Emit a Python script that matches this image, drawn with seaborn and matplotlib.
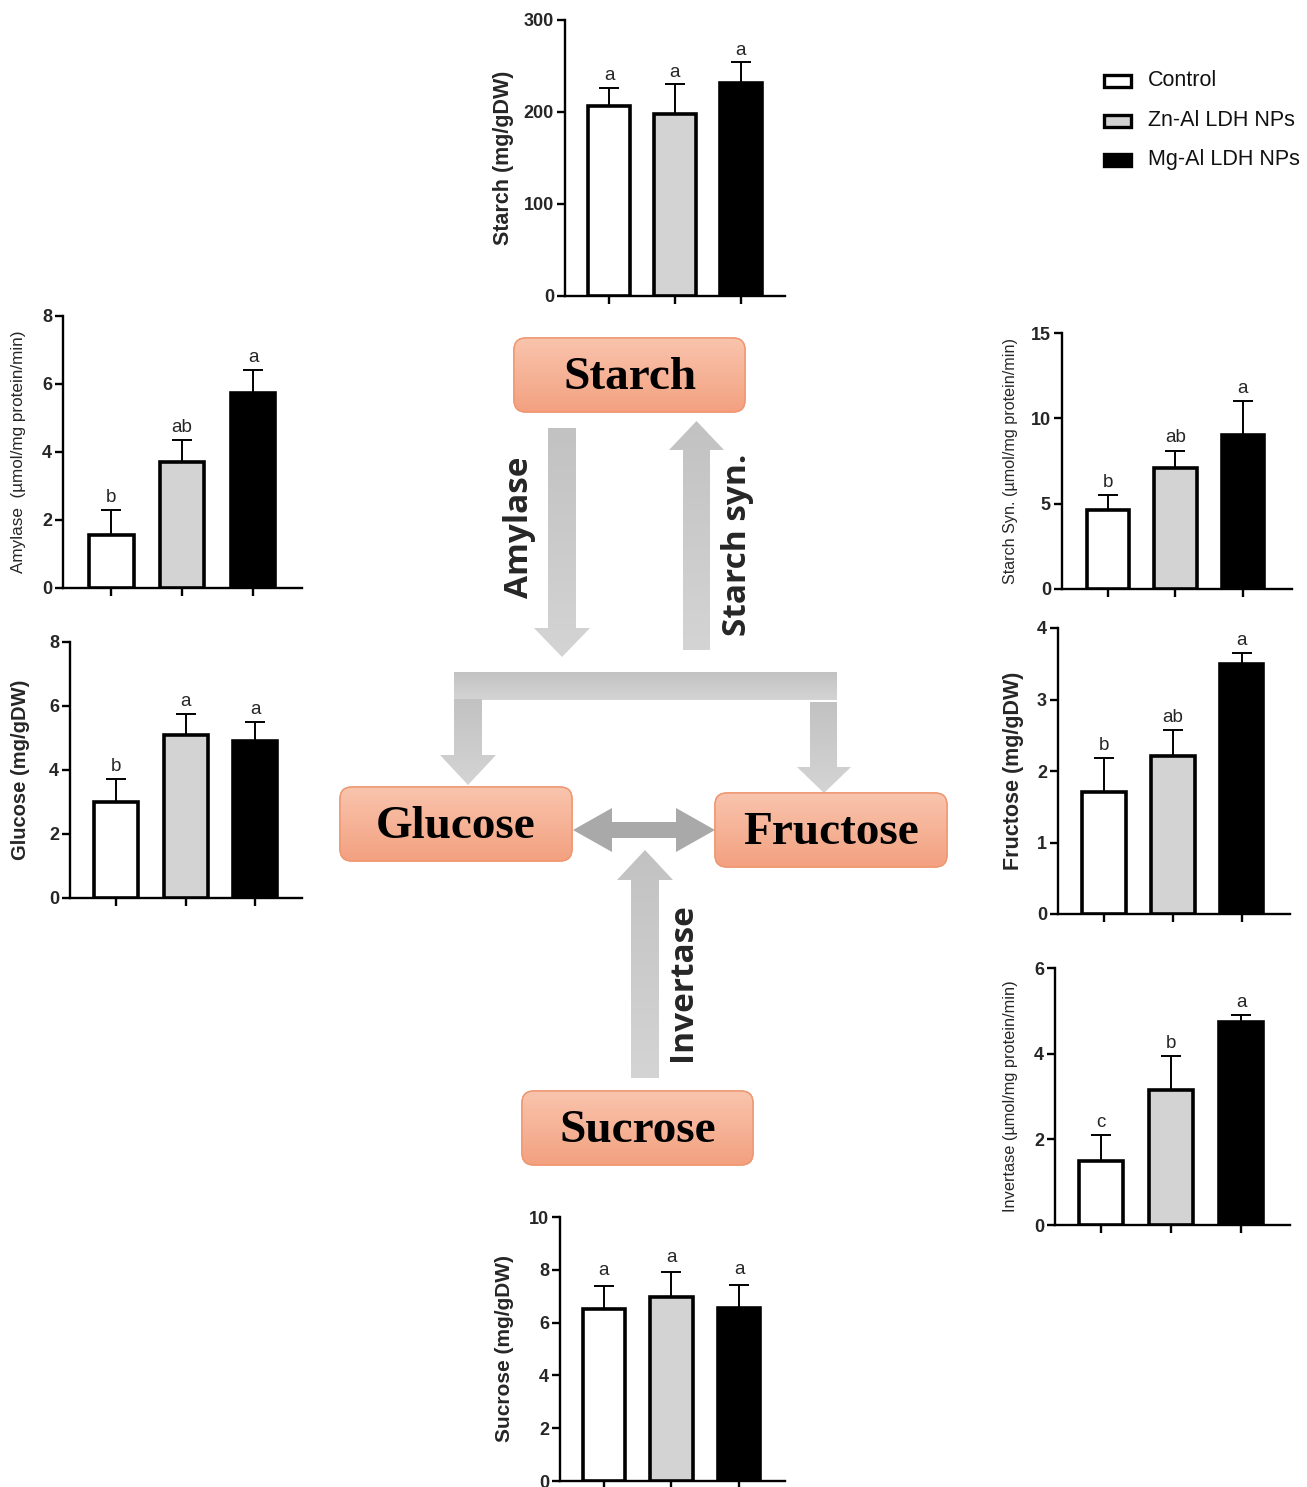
import numpy as np
import matplotlib
matplotlib.use("Agg")
import matplotlib.pyplot as plt
import seaborn as sns
import pandas as pd
from matplotlib.patches import FancyBboxPatch, Polygon, Rectangle
from matplotlib.colors import LinearSegmentedColormap

# ---------------- data ----------------
groups = ["Control", "Zn-Al LDH NPs", "Mg-Al LDH NPs"]
bar_colors = ["#FFFFFF", "#D3D3D3", "#000000"]

starch_vals = [206, 198, 231]
starch_err = [20, 32, 23]
starch_letters = ["a", "a", "a"]

amylase_vals = [1.55, 3.7, 5.75]
amylase_err = [0.75, 0.65, 0.65]
amylase_letters = ["b", "ab", "a"]

glucose_vals = [3.0, 5.1, 4.92]
glucose_err = [0.72, 0.65, 0.58]
glucose_letters = ["b", "a", "a"]

starchsyn_vals = [4.6, 7.1, 9.0]
starchsyn_err = [0.9, 1.0, 2.0]
starchsyn_letters = ["b", "ab", "a"]

fructose_vals = [1.7, 2.21, 3.5]
fructose_err = [0.48, 0.36, 0.15]
fructose_letters = ["b", "ab", "a"]

invertase_vals = [1.5, 3.15, 4.75]
invertase_err = [0.6, 0.8, 0.15]
invertase_letters = ["c", "b", "a"]

sucrose_vals = [6.5, 6.97, 6.56]
sucrose_err = [0.9, 0.93, 0.88]
sucrose_letters = ["a", "a", "a"]

# ---------------- setup ----------------
W, H = 1307, 1487
sns.set_theme(style="ticks")
plt.rcParams["font.family"] = ["Liberation Sans", "DejaVu Sans"]

fig = plt.figure(figsize=(W / 100, H / 100), dpi=100)
fig.patch.set_facecolor("white")

# overlay axes for the pathway diagram (pixel coordinates)
ax0 = fig.add_axes([0, 0, 1, 1])
ax0.set_xlim(0, W)
ax0.set_ylim(H, 0)
ax0.axis("off")

box_cmap = LinearSegmentedColormap.from_list("box", ["#F9C4AD", "#F3A180"])
grey_cmap = LinearSegmentedColormap.from_list("grey", ["#C2C2C2", "#D4D4D4"])


def grad_fill(patch, cmap, x0, x1, y0, y1, vertical=True, reverse=False):
    ax0.add_patch(patch)
    g = np.linspace(0, 1, 100)
    if reverse:
        g = g[::-1]
    arr = g.reshape(-1, 1) if vertical else g.reshape(1, -1)
    im = ax0.imshow(arr, cmap=cmap, extent=(x0, x1, y1, y0), aspect="auto",
                    origin="upper", zorder=patch.get_zorder())
    im.set_clip_path(patch)


def node(x0, y0, x1, y1, label):
    p = FancyBboxPatch((x0, y0), x1 - x0, y1 - y0,
                       boxstyle="round,pad=0,rounding_size=12",
                       facecolor="none", edgecolor="#EF9670", linewidth=1.0, zorder=3)
    grad_fill(p, box_cmap, x0, x1, y0, y1)
    p2 = FancyBboxPatch((x0, y0), x1 - x0, y1 - y0,
                        boxstyle="round,pad=0,rounding_size=12",
                        facecolor="none", edgecolor="#EF9670", linewidth=1.0, zorder=4)
    ax0.add_patch(p2)
    ax0.text((x0 + x1) / 2, (y0 + y1) / 2 + 3, label, ha="center", va="center",
             fontsize=34, fontweight="bold", family=["Liberation Serif", "DejaVu Serif"],
             color="black", zorder=5)


def v_arrow(sx0, sx1, ystart, yhead, hx0, hx1, ytip, color=None, reverse=False):
    xm = (hx0 + hx1) / 2
    pts = [(sx0, ystart), (sx1, ystart), (sx1, yhead), (hx1, yhead), (xm, ytip),
           (hx0, yhead), (sx0, yhead)]
    ys = [ystart, ytip]
    if color is None:
        p = Polygon(pts, closed=True, facecolor="none", edgecolor="none", zorder=2)
        grad_fill(p, grey_cmap, hx0, hx1, min(ys), max(ys), reverse=reverse)
    else:
        ax0.add_patch(Polygon(pts, closed=True, facecolor=color, edgecolor="none", zorder=2))


node(514, 338, 745, 412, "Starch")
node(340, 787, 572, 861, "Glucose")
node(715, 793, 947, 867, "Fructose")
node(522, 1091, 753, 1165, "Sucrose")

# Amylase (down) and Starch syn. (up)
v_arrow(548, 576, 428, 628, 534, 590, 657)
v_arrow(683, 710, 650, 450, 669, 724, 421)
# bracket
bar = Polygon([(454, 672), (837, 672), (837, 700), (454, 700)], closed=True,
              facecolor="none", edgecolor="none", zorder=2)
grad_fill(bar, grey_cmap, 454, 837, 672, 700)
v_arrow(454, 482, 699, 755, 440, 496, 785)
v_arrow(810, 837, 702, 767, 797, 851, 793)
# invertase (up)
v_arrow(631, 659, 1078, 880, 617, 673, 850)
# double arrow glucose <-> fructose
yc = 830
dpts = [(573, yc), (612, yc - 22), (612, yc - 8), (676, yc - 8), (676, yc - 22),
        (715, yc), (676, yc + 22), (676, yc + 8), (612, yc + 8), (612, yc + 22)]
ax0.add_patch(Polygon(dpts, closed=True, facecolor="#A9A9A9", edgecolor="none", zorder=2))

afont = ["Open Sans", "DejaVu Sans"]
ax0.text(520, 527, "Amylase", rotation=90, ha="center", va="center", fontsize=24,
         fontweight="bold", family=afont)
ax0.text(738, 545, "Starch syn.", rotation=90, ha="center", va="center", fontsize=24,
         fontweight="bold", family=afont)
ax0.text(683, 982, "Invertase", rotation=90, ha="center", va="center", fontsize=24,
         fontweight="bold", family=afont)

# legend
leg_y = [81, 121, 160]
for yy, c, g in zip(leg_y, bar_colors, groups):
    ax0.add_patch(Rectangle((1104, yy - 6), 27, 12, facecolor=c, edgecolor="black",
                            linewidth=2.4, zorder=5))
    ax0.text(1148, yy, g, ha="left", va="center", fontsize=15.5, color="#111111")

pal = dict(zip(groups, bar_colors))


def panel(box, vals, errs, letters, ylim, yticks, ylabel, lab_x, lab_size, lab_weight,
          letter_pad, xlim):
    x0, yt, x1, yb = box
    ax = fig.add_axes([x0 / W, 1 - yb / H, (x1 - x0) / W, (yb - yt) / H])
    df = pd.DataFrame({"group": groups, "value": vals})
    sns.barplot(data=df, x="group", y="value", hue="group", palette=pal, order=groups,
                hue_order=groups, width=0.63, edgecolor="black", linewidth=2.6,
                saturation=1, legend=False, ax=ax, zorder=3)
    ax.errorbar(np.arange(3), vals, yerr=[np.zeros(3), errs], fmt="none", ecolor="black",
                elinewidth=1.4, capsize=7, capthick=1.4, zorder=2)
    for i, (v, e, l) in enumerate(zip(vals, errs, letters)):
        ax.text(i, v + e + letter_pad, l, ha="center", va="bottom", fontsize=13.5)
    ax.set_xlim(*xlim)
    ax.set_ylim(*ylim)
    ax.set_yticks(yticks)
    ax.set_xticks([0, 1, 2])
    ax.set_xticklabels(["", "", ""])
    ax.set_xlabel("")
    ax.set_facecolor("none")
    for s in ["top", "right"]:
        ax.spines[s].set_visible(False)
    for s in ["left", "bottom"]:
        ax.spines[s].set_linewidth(1.7)
        ax.spines[s].set_color("black")
    ax.tick_params(axis="both", width=1.7, length=6, labelsize=13, color="black",
                   pad=2)
    for t in ax.get_yticklabels():
        t.set_fontweight("bold")
    ax.set_ylabel(ylabel, fontsize=lab_size, fontweight=lab_weight)
    ax.yaxis.set_label_coords((lab_x - x0) / (x1 - x0), 0.5)
    ax.yaxis.label.set_verticalalignment("center")
    return ax


panel((565, 20, 785, 296), starch_vals, starch_err, starch_letters, (0, 300),
      [0, 100, 200, 300], "Starch (mg/gDW)", 503, 15.5, "bold", 4, (-0.667, 2.667))
panel((63, 316, 302, 588), amylase_vals, amylase_err, amylase_letters, (0, 8),
      [0, 2, 4, 6, 8], "Amylase  (µmol/mg protein/min)", 19, 12.3, "normal", 0.12,
      (-0.68, 2.69))
panel((70, 642, 302, 898), glucose_vals, glucose_err, glucose_letters, (0, 8),
      [0, 2, 4, 6, 8], "Glucose (mg/gDW)", 21, 14.5, "bold", 0.12, (-0.66, 2.67))
panel((1062, 333, 1292, 589), starchsyn_vals, starchsyn_err, starchsyn_letters, (0, 15),
      [0, 5, 10, 15], "Starch Syn. (µmol/mg protein/min)", 1011, 11.6, "normal", 0.25,
      (-0.68, 2.73))
panel((1058, 628, 1290, 914), fructose_vals, fructose_err, fructose_letters, (0, 4),
      [0, 1, 2, 3, 4], "Fructose (mg/gDW)", 1014, 15.5, "bold", 0.06, (-0.67, 2.7))
panel((1055, 968, 1290, 1225), invertase_vals, invertase_err, invertase_letters, (0, 6),
      [0, 2, 4, 6], "Invertase (µmol/mg protein/min)", 1011, 11.8, "normal", 0.1,
      (-0.66, 2.7))
panel((560, 1217, 785, 1481), sucrose_vals, sucrose_err, sucrose_letters, (0, 10),
      [0, 2, 4, 6, 8, 10], "Sucrose (mg/gDW)", 505, 15, "bold", 0.25, (-0.65, 2.68))

fig.savefig("out.png", dpi=100, facecolor="white")
